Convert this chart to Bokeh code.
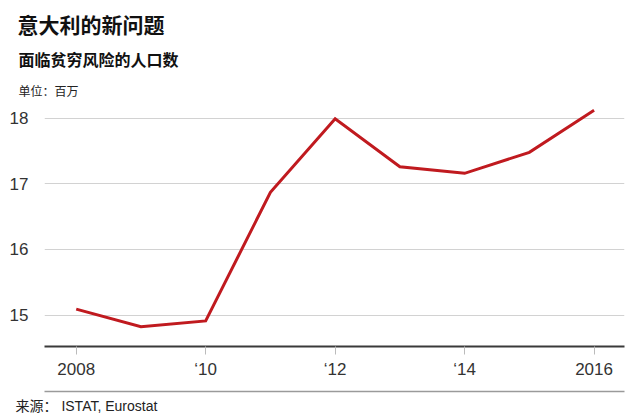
from bokeh.plotting import figure
from bokeh.models import Range1d, FixedTicker, Title, LinearAxis
from bokeh.embed import file_html
from bokeh.resources import INLINE

# ---- data ----
years = [2008, 2009, 2010, 2011, 2012, 2013, 2014, 2015, 2016]
people_at_risk = [15.09, 14.82, 14.91, 16.87, 17.99, 17.26, 17.16, 17.48, 18.12]
x_ticks = [2008, 2010, 2012, 2014, 2016]
x_tick_labels = ["2008", "\u201810", "\u201812", "\u201814", "2016"]
y_ticks = [15, 16, 17, 18]

title_text = "意大利的新问题"
subtitle_text = "面临贫穷风险的人口数"
unit_text = "单位：百万"
source_text = "来源： ISTAT, Eurostat"

FONT = "Liberation Sans"
CJK = "Noto Sans CJK SC"

p = figure(width=632, height=420, output_backend="svg", toolbar_location=None,
           x_range=Range1d(2007.51, 2016.47), y_range=Range1d(14.52, 18.27),
           min_border_left=44, min_border_right=8, min_border_top=100,
           min_border_bottom=74)
p.title.visible = False
p.outline_line_color = None
p.background_fill_color = "white"
p.border_fill_color = "white"

p.line(years, people_at_risk, line_color="#c01a1f", line_width=3,
       line_join="miter")

# x axis
xa = p.xaxis[0]
xa.ticker = FixedTicker(ticks=x_ticks)
xa.major_label_overrides = {t: l for t, l in zip(x_ticks, x_tick_labels)}
xa.axis_line_color = "#3a3a3a"
xa.axis_line_width = 2
xa.major_tick_line_color = "#bbbbbb"
xa.major_tick_out = 8
xa.major_tick_in = 0
xa.minor_tick_line_color = None
xa.major_label_text_font = FONT
xa.major_label_text_font_size = "17px"
xa.major_label_text_color = "#333333"
xa.major_label_standoff = 5

# invisible spacer axis, then the grey separator line
spacer = LinearAxis(ticker=FixedTicker(ticks=[2012]), axis_line_color=None,
                    major_tick_line_color=None, minor_tick_line_color=None,
                    major_tick_out=10, major_tick_in=0, minor_tick_out=0,
                    major_label_text_font_size="1px",
                    major_label_text_color=None, major_label_standoff=0)
p.add_layout(spacer, "below")
sep = LinearAxis(ticker=FixedTicker(ticks=[]), axis_line_color="#9a9a9a",
                 axis_line_width=1.5,
                 major_tick_line_color=None, minor_tick_line_color=None,
                 major_tick_out=0, major_tick_in=0, minor_tick_out=0,
                 major_label_text_font_size="0px", major_label_standoff=0)
p.add_layout(sep, "below")

# y axis
ya = p.yaxis[0]
ya.ticker = FixedTicker(ticks=y_ticks)
ya.axis_line_color = None
ya.major_tick_line_color = None
ya.minor_tick_line_color = None
ya.major_label_text_font = FONT
ya.major_label_text_font_size = "17px"
ya.major_label_text_color = "#333333"
ya.major_label_standoff = 10

p.xgrid.grid_line_color = None
p.ygrid.grid_line_color = "#d2d2d2"
p.ygrid.grid_line_width = 1

# titles: added closest-to-frame first
p.add_layout(Title(text=unit_text, text_font=CJK, text_font_size="12px",
                   text_font_style="normal", text_color="#222222",
                   align="left", offset=-26, standoff=4), "above")
p.add_layout(Title(text=subtitle_text, text_font=CJK, text_font_size="16px",
                   text_font_style="bold", text_color="#111111",
                   align="left", offset=-26, standoff=13), "above")
p.add_layout(Title(text=title_text, text_font=CJK, text_font_size="21px",
                   text_font_style="bold", text_color="#111111",
                   align="left", offset=-27, standoff=0), "above")

# source
p.add_layout(Title(text=source_text,
                   text_font="Liberation Sans, Noto Sans CJK SC",
                   text_font_size="14px",
                   text_font_style="normal", text_color="#222222",
                   align="left", offset=-29, standoff=8), "below")

open("out.html", "w").write(file_html(p, INLINE))
